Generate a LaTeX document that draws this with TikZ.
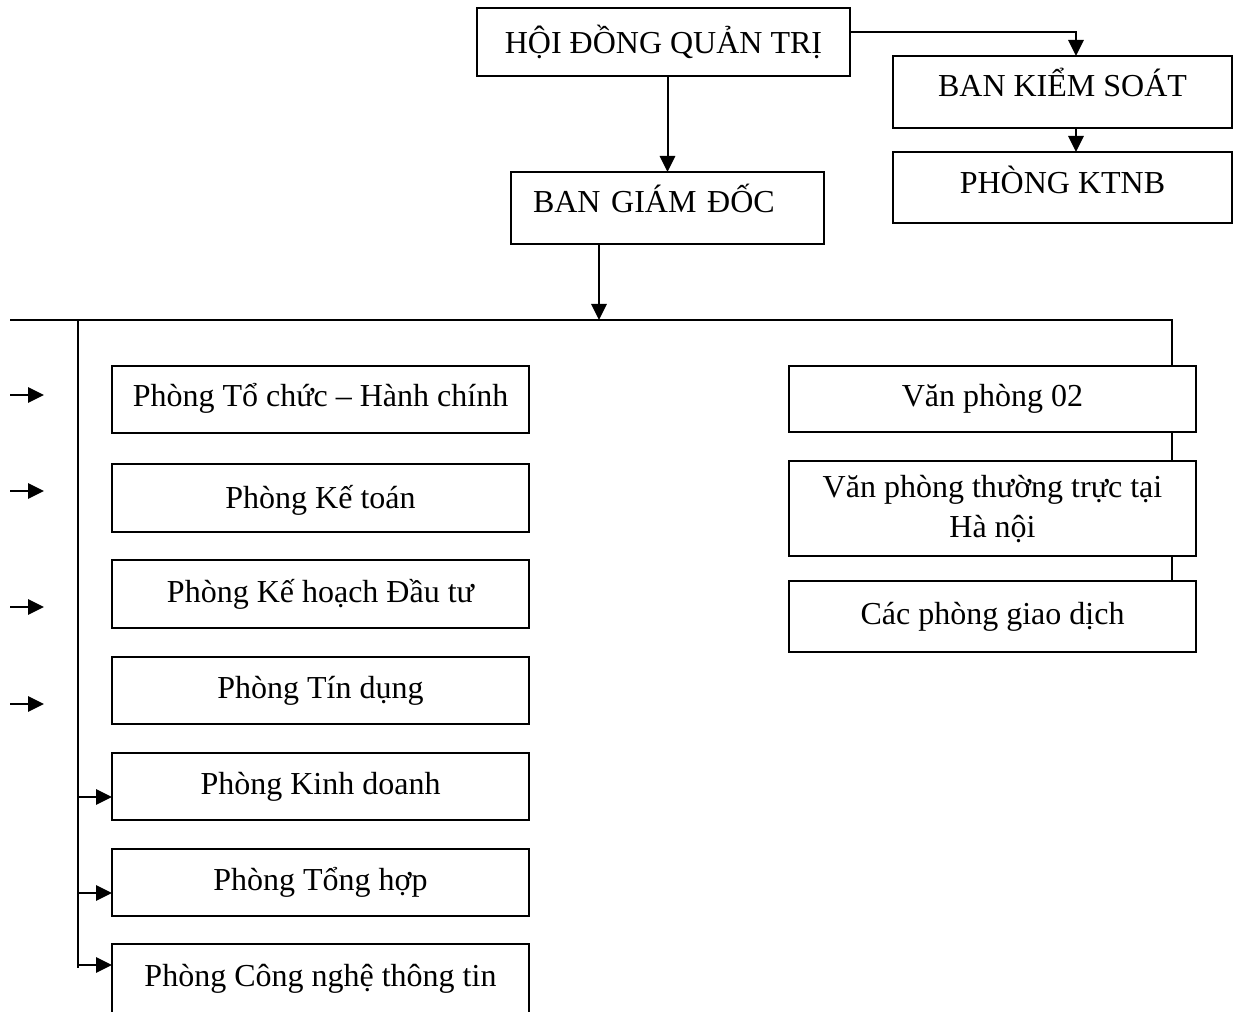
\documentclass[tikz,border=0pt]{standalone}
\usepackage{fontspec}
\setmainfont{Liberation Serif}
\usetikzlibrary{arrows.meta,calc}
\begin{document}
\begin{tikzpicture}[x=0.75pt,y=-0.75pt,
  font=\fontsize{24}{30}\selectfont,
  unit/.style={draw, line width=1.5pt, anchor=north west, inner sep=0pt, outer sep=0pt},
  box/.style={unit, text height=12pt, text depth=0pt},
  arr/.style={line width=1.5pt, -{Triangle[length=12pt,width=11.5pt]}},
  wire/.style={line width=1.5pt}]
\useasboundingbox (0,0) rectangle (1235,1012);

% board, supervisors, management
\node[box, text height=18pt, minimum width=373*0.75pt, minimum height=68*0.75pt] (hdqt) at (477,8) {HỘI ĐỒNG QUẢN TRỊ};
\node[box, text height=7.5pt, minimum width=339*0.75pt, minimum height=72*0.75pt] (bks) at (893,56) {BAN KIỂM SOÁT};
\node[box, text height=9pt, minimum width=339*0.75pt, minimum height=71*0.75pt] (ktnb) at (893,152) {PHÒNG KTNB};
\node[box, text height=7.5pt, minimum width=313*0.75pt, minimum height=72*0.75pt, inner xsep=16.5pt,
      text width=201.75pt, align=left] (bgd) at (511,172) {BAN GIÁM ĐỐC};

% departments
\node[box, text height=10.5pt, minimum width=417*0.75pt, minimum height=67*0.75pt] (tchc) at (112,366) {Phòng Tổ chức – Hành chính};
\node[box, text height=15pt, minimum width=417*0.75pt, minimum height=68*0.75pt] (kt) at (112,464) {Phòng Kế toán};
\node[box, minimum width=417*0.75pt, minimum height=68*0.75pt] (khdt) at (112,560) {Phòng Kế hoạch Đầu tư};
\node[box, minimum width=417*0.75pt, minimum height=67*0.75pt] (td) at (112,657) {Phòng Tín dụng};
\node[box, minimum width=417*0.75pt, minimum height=67*0.75pt] (kd) at (112,753) {Phòng Kinh doanh};
\node[box, minimum width=417*0.75pt, minimum height=67*0.75pt] (th) at (112,849) {Phòng Tổng hợp};
\node[box, text height=10pt, minimum width=417*0.75pt, minimum height=72*0.75pt] (cntt) at (112,944) {Phòng Công nghệ thông tin};

% offices
\node[box, text height=11.5pt, minimum width=407*0.75pt, minimum height=66*0.75pt] (vp2) at (789,366) {Văn phòng 02};
\node[unit, minimum width=407*0.75pt, minimum height=95*0.75pt, align=center] (vptt) at (789,461)
  {\rule{0pt}{18pt}\smash{Văn phòng thường trực tại}\\\smash{Hà nội}\rule[-5pt]{0pt}{0pt}};
\node[box, minimum width=407*0.75pt, minimum height=71*0.75pt] (cpgd) at (789,581) {Các phòng giao dịch};

% routing points
\coordinate (kx) at (1076,0);
\coordinate (busL) at (10,320);
\coordinate (busJ) at (599,320);
\coordinate (busR) at (1172,320);
\coordinate (trunkT) at (78,320);
\coordinate (trunkB) at (78,968);
\coordinate (a1) at (10,395);
\coordinate (a2) at (10,491);
\coordinate (a3) at (10,607);
\coordinate (a4) at (10,704);
\coordinate (b1) at (44,395);
\coordinate (b2) at (44,491);
\coordinate (b3) at (44,607);
\coordinate (b4) at (44,704);

% connectors at the top
\draw[arr] ($(hdqt.north east)+(0,24)$) -| (bks.north -| kx);
\draw[arr] (bks.south -| kx) -- (ktnb.north -| kx);
\draw[arr] (hdqt.south -| bgd.north) -- (bgd.north);
\draw[arr] (bgd.south -| busJ) -- (busJ);

% bus and trunk
\draw[wire] (busL) -- (busR) -- (vp2.north -| busR);
\draw[wire] (trunkT) -- (trunkB);
\draw[wire] (vp2.south -| busR) -- (vptt.north -| busR);
\draw[wire] (vptt.south -| busR) -- (cpgd.north -| busR);

% short free arrows on the left
\draw[arr] (a1) -- (b1);
\draw[arr] (a2) -- (b2);
\draw[arr] (a3) -- (b3);
\draw[arr] (a4) -- (b4);

% branches into the lower departments
\draw[arr] ($(kd.north west)+(-34,44)$) -- ($(kd.north west)+(0,44)$);
\draw[arr] ($(th.north west)+(-34,44)$) -- ($(th.north west)+(0,44)$);
\draw[arr] ($(cntt.north west)+(-34,21)$) -- ($(cntt.north west)+(0,21)$);
\end{tikzpicture}
\end{document}
